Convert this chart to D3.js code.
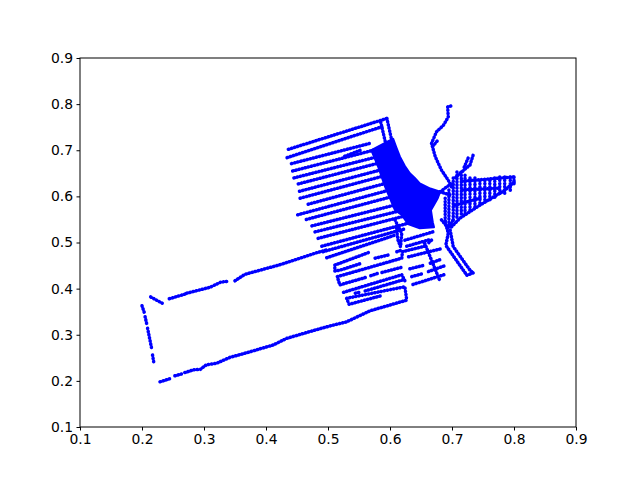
<!DOCTYPE html>
<html>
<head>
<meta charset="utf-8">
<style>
html, body { margin: 0; padding: 0; background: #fff; }
svg { display: block; }
text { font-family: "DejaVu Sans", sans-serif; }
</style>
<script src="https://d3js.org/d3.v7.min.js"></script>
</head>
<body>
<div id="chart"></div>
<script>
// tick labels on both axes
var tickValues = [0.1, 0.2, 0.3, 0.4, 0.5, 0.6, 0.7, 0.8, 0.9];

// long way round on the left
var upperPath = [
    [[.214,.382],[.233,.368]],
    [[.244,.378],[.269,.388]],
    [[.272,.390],[.310,.403],[.327,.414],[.339,.416]],
    [[.350,.417],[.366,.431],[.423,.452],[.482,.478],[.498,.484]]
];
var leftPath = [
    [[.200,.363],[.204,.347]],
    [[.205,.339],[.208,.321]],
    [[.209,.314],[.216,.267]],
    [[.217,.256],[.219,.240]]
];
var lowerPath = [
    [[.229,.198],[.248,.206]],
    [[.253,.211],[.264,.215]],
    [[.269,.218],[.283,.224],[.294,.225],[.304,.235],[.320,.238],[.342,.251],[.369,.261],[.412,.278],[.433,.292],[.471,.307],[.503,.319],[.530,.328],[.568,.352],[.627,.375]]
];

// the parallel stripes
var stripes = [
    [[.436,.702],[.595,.769]],
    [[.434,.684],[.589,.752]],
    [[.441,.671],[.568,.715]],
    [[.443,.655],[.573,.700]],
    [[.445,.640],[.577,.685]],
    [[.452,.627],[.581,.672]],
    [[.454,.611],[.584,.657]],
    [[.455,.596],[.589,.644]],
    [[.468,.583],[.595,.629]],
    [[.451,.560],[.600,.614]],
    [[.465,.550],[.613,.603]],
    [[.474,.536],[.613,.583]],
    [[.479,.523],[.620,.570]],
    [[.484,.509],[.625,.558]],
    [[.490,.492],[.630,.542]],
    [[.492,.480],[.625,.530]],
    [[.498,.467],[.608,.516]],
    [[.624,.505],[.669,.523]],
    [[.627,.492],[.666,.507]],
    [[.527,.687],[.552,.700]],
    [[.595,.769],[.603,.720]],
    [[.585,.761],[.593,.715]]
];

// closed loops and dashes under the stripes
var loops = [
    [[.565,.478],[.511,.451],[.511,.438],[.519,.440],[.552,.454]],
    [[.576,.466],[.601,.474]],
    [[.611,.480],[.620,.484]],
    [[.560,.424],[.519,.408],[.515,.426],[.619,.466],[.620,.480],[.656,.492]],
    [[.569,.428],[.580,.433]],
    [[.587,.435],[.621,.447]],
    [[.525,.392],[.619,.430],[.624,.417]],
    [[.544,.390],[.554,.393]],
    [[.560,.395],[.621,.419]],
    [[.584,.384],[.534,.366],[.530,.379],[.624,.404],[.627,.375]],
    [[.630,.469],[.681,.486]],
    [[.632,.443],[.656,.451]],
    [[.665,.455],[.683,.464]],
    [[.635,.426],[.654,.433]],
    [[.662,.437],[.689,.450]],
    [[.637,.409],[.689,.431]],
    [[.656,.498],[.681,.415]],
    [[.667,.505],[.661,.498]],
    [[.608,.549],[.619,.520],[.617,.491],[.613,.505],[.610,.534]]
];

// the dense area where the stripes run together
var denseArea = [[.570,.700],[.605,.725],[.610,.707],[.616,.686],[.624,.666],[.632,.650],[.640,.640],[.648,.628],[.665,.617],[.681,.610],[.677,.596],[.666,.570],[.669,.544],[.671,.533],[.648,.531],[.629,.540],[.619,.560],[.608,.570],[.592,.621],[.581,.664]];

// paths to the right of the dense area
var rightPaths = [
    [[.698,.796],[.693,.794],[.694,.772],[.686,.754],[.675,.740],[.667,.715],[.673,.686],[.683,.657],[.694,.635],[.699,.621]],
    [[.676,.720],[.668,.707]],
    [[.681,.610],[.698,.627]],
    [[.681,.610],[.697,.603]],
    [[.689,.545],[.694,.520],[.690,.494],[.724,.429],[.734,.434]],
    [[.697,.527],[.702,.491],[.729,.440],[.734,.434]],
    [[.683,.549],[.694,.531],[.702,.549]]
];

// fan on the right, upright runs
var fan = [
    [[.689,.596],[.689,.544]],
    [[.695,.614],[.695,.531]],
    [[.702,.640],[.702,.544]],
    [[.708,.653],[.708,.553]],
    [[.715,.653],[.715,.557]],
    [[.721,.646],[.721,.562]],
    [[.729,.640],[.729,.570]],
    [[.737,.640],[.737,.577]],
    [[.745,.635],[.745,.581]],
    [[.753,.635],[.753,.592]],
    [[.761,.635],[.761,.592]],
    [[.769,.640],[.769,.598]],
    [[.777,.642],[.777,.603]],
    [[.785,.642],[.785,.607]],
    [[.794,.642],[.794,.613]],
    [[.800,.642],[.800,.626]],
    [[.734,.689],[.729,.668],[.713,.650],[.705,.640]],
    [[.726,.683],[.719,.661]],
    [[.716,.633],[.800,.642]],
    [[.800,.631],[.785,.613],[.745,.581],[.713,.553],[.697,.531]],
    [[.716,.614],[.777,.618]],
    [[.705,.581],[.745,.596]]
];

var width = 640,
    height = 480,
    margin = { top: 58, right: 64, bottom: 53, left: 80 };

var svg = d3.select("#chart")
    .append("svg")
    .attr("width", width)
    .attr("height", height);

var x = d3.scaleLinear().domain([0.1, 0.9]).range([margin.left, width - margin.right]);
var y = d3.scaleLinear().domain([0.1, 0.9]).range([height - margin.bottom, margin.top]);

var line = d3.line()
    .x(function (d) { return x(d[0]); })
    .y(function (d) { return y(d[1]); });

var tracks = [].concat(upperPath, leftPath, lowerPath, stripes, loops, rightPaths, fan);

// dashes of almost no length with round caps, so a track reads as a row of dots
svg.append("g")
    .selectAll("path")
    .data(tracks)
    .enter()
    .append("path")
    .attr("d", line)
    .attr("fill", "none")
    .attr("stroke", "#0000ff")
    .attr("stroke-width", 3.5)
    .attr("stroke-dasharray", "0.4 2.8")
    .attr("stroke-linecap", "round")
    .attr("stroke-linejoin", "round");

svg.append("path")
    .datum(denseArea)
    .attr("d", function (d) { return line(d) + "Z"; })
    .attr("fill", "#0000ff")
    .attr("stroke", "#0000ff")
    .attr("stroke-width", 2)
    .attr("stroke-linejoin", "round");

// frame
svg.append("rect")
    .attr("x", x(0.1))
    .attr("y", y(0.9))
    .attr("width", x(0.9) - x(0.1))
    .attr("height", y(0.1) - y(0.9))
    .attr("fill", "none")
    .attr("stroke", "#000")
    .attr("stroke-width", 1);

var xAxis = d3.axisBottom(x).tickValues(tickValues).tickFormat(d3.format(".1f")).tickSize(3.5).tickPadding(3.5);
var yAxis = d3.axisLeft(y).tickValues(tickValues).tickFormat(d3.format(".1f")).tickSize(3.5).tickPadding(3.5);

var gx = svg.append("g").attr("transform", "translate(0," + (height - margin.bottom) + ")").call(xAxis);
var gy = svg.append("g").attr("transform", "translate(" + margin.left + ",0)").call(yAxis);

[gx, gy].forEach(function (g) {
    g.select(".domain").remove();
    g.selectAll("text").style("font-family", "'DejaVu Sans'").style("font-size", "13.9px").attr("fill", "#000");
    g.selectAll("line").attr("stroke", "#000").attr("stroke-width", 1);
});
</script>
</body>
</html>
